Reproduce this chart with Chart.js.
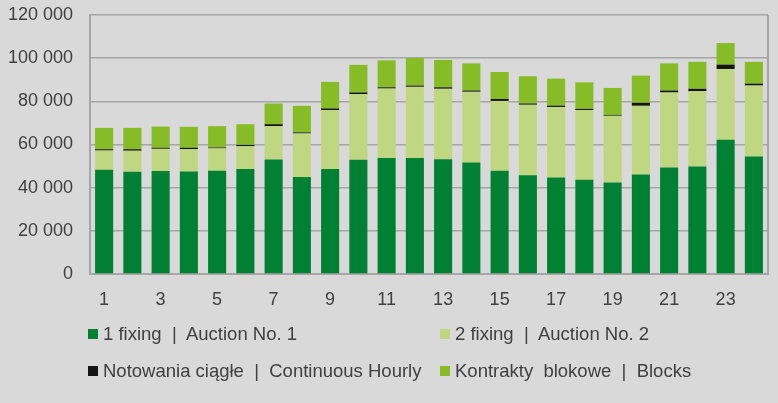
<!DOCTYPE html>
<html>
<head>
<meta charset="utf-8">
<script src="https://cdn.jsdelivr.net/npm/chart.js@4"></script>
<style>
    html, body { margin: 0; padding: 0; background: #d9d9d9; }
    #wrap { position: relative; width: 778px; height: 403px; }
    #chart { position: absolute; left: 0; top: 0; }
    .legend { position: absolute; left: 0; top: 0; width: 778px; height: 403px; pointer-events: none;
        font-family: "Liberation Sans", Arial, sans-serif; font-size: 18.5px; color: #404040; }
    .legend-item { position: absolute; display: flex; align-items: center; white-space: pre; }
    .legend-box { width: 10px; height: 10px; margin-right: 5px; }
</style>
</head>
<body>
<div id="wrap">
    <canvas id="chart" width="778" height="403"></canvas>
    <div class="legend" id="legend"></div>
</div>
<script>
// data (MWh per hour)
const hours = ['1','2','3','4','5','6','7','8','9','10','11','12','13','14','15','16','17','18','19','20','21','22','23','24'];
const fixing1 = [48300, 47400, 47700, 47500, 47800, 48600, 53100, 44900, 48600, 52900, 53800, 53800,
                 53200, 51700, 47800, 45800, 44700, 43700, 42400, 46100, 49400, 49800, 62200, 54400];
const fixing2 = [8900, 9700, 10300, 10300, 10400, 10600, 15400, 20200, 27400, 30500, 32100, 32900,
                 32600, 32700, 32400, 32600, 32700, 32300, 30900, 31800, 34700, 34900, 32800, 32900];
const continuous = [600, 700, 500, 700, 400, 600, 900, 500, 700, 700, 600, 600,
                    700, 600, 900, 600, 600, 500, 400, 1400, 900, 1100, 2000, 900];
const blocks = [9900, 9900, 9800, 9700, 9900, 9600, 9600, 12300, 12300, 12800, 12500, 12800,
                12700, 12600, 12500, 12600, 12500, 12300, 12500, 12600, 12600, 12500, 10000, 10100];
const yTicks = [0, 20000, 40000, 60000, 80000, 100000, 120000];

const seriesLabels = ['1 fixing  |  Auction No. 1', '2 fixing  |  Auction No. 2',
                      'Notowania ciągłe  |  Continuous Hourly', 'Kontrakty  blokowe  |  Blocks'];
const seriesColors = ['#008033', '#c0d782', '#141414', '#86bc25'];

const gridColor = '#a6a6a6';
const textColor = '#404040';
const font = { family: '"Liberation Sans", Arial, sans-serif', size: 18 };

function fmt(v) {
    return String(v).replace(/\B(?=(\d{3})+(?!\d))/g, ' ');
}

// right side of the plot frame
const frame = {
    id: 'frame',
    afterDraw(chart) {
        const { ctx, chartArea: a } = chart;
        ctx.save();
        ctx.strokeStyle = gridColor;
        ctx.lineWidth = 2;
        ctx.beginPath();
        ctx.moveTo(a.right, a.top);
        ctx.lineTo(a.right, a.bottom);
        ctx.stroke();
        ctx.restore();
    }
};

const data = [fixing1, fixing2, continuous, blocks];

new Chart(document.getElementById('chart'), {
    type: 'bar',
    data: {
        labels: hours,
        datasets: data.map((d, i) => ({
            label: seriesLabels[i],
            data: d,
            backgroundColor: seriesColors[i],
            borderWidth: 0,
            barPercentage: 0.64,
            categoryPercentage: 1
        }))
    },
    options: {
        responsive: false,
        animation: false,
        layout: { padding: { top: 15, right: 10, bottom: 0, left: 0 } },
        plugins: { legend: { display: false }, tooltip: { enabled: false } },
        scales: {
            x: {
                stacked: true,
                grid: { display: false, drawTicks: false },
                border: { display: true, color: gridColor, width: 2 },
                ticks: {
                    color: textColor, font, padding: 15,
                    autoSkip: false, maxRotation: 0,
                    callback: (v, i) => (i % 2 === 0 ? hours[i] : '')
                },
                afterFit: s => { s.height = 129; }
            },
            y: {
                stacked: true,
                min: 0,
                max: 120000,
                afterBuildTicks: s => { s.ticks = yTicks.map(v => ({ value: v })); },
                // invisible tick marks keep the labels off the axis without padding the top
                grid: { color: gridColor, lineWidth: 1.5, drawTicks: true, tickLength: 17, tickColor: 'rgba(0,0,0,0)' },
                border: { display: true, color: gridColor, width: 2 },
                ticks: { color: textColor, font, padding: 0, callback: v => fmt(v) },
                afterFit: s => { s.width = 90; }
            }
        }
    },
    plugins: [frame]
});

// two-column legend like the original
const legendPos = [[88, 334], [440, 334], [88, 371], [440, 371]];
const legend = document.getElementById('legend');
seriesLabels.forEach((txt, i) => {
    const item = document.createElement('div');
    item.className = 'legend-item';
    item.style.left = legendPos[i][0] + 'px';
    item.style.top = (legendPos[i][1] - 11) + 'px';
    item.style.height = '22px';
    const box = document.createElement('span');
    box.className = 'legend-box';
    box.style.background = seriesColors[i];
    const label = document.createElement('span');
    label.textContent = txt;
    item.append(box, label);
    legend.appendChild(item);
});
</script>
</body>
</html>
